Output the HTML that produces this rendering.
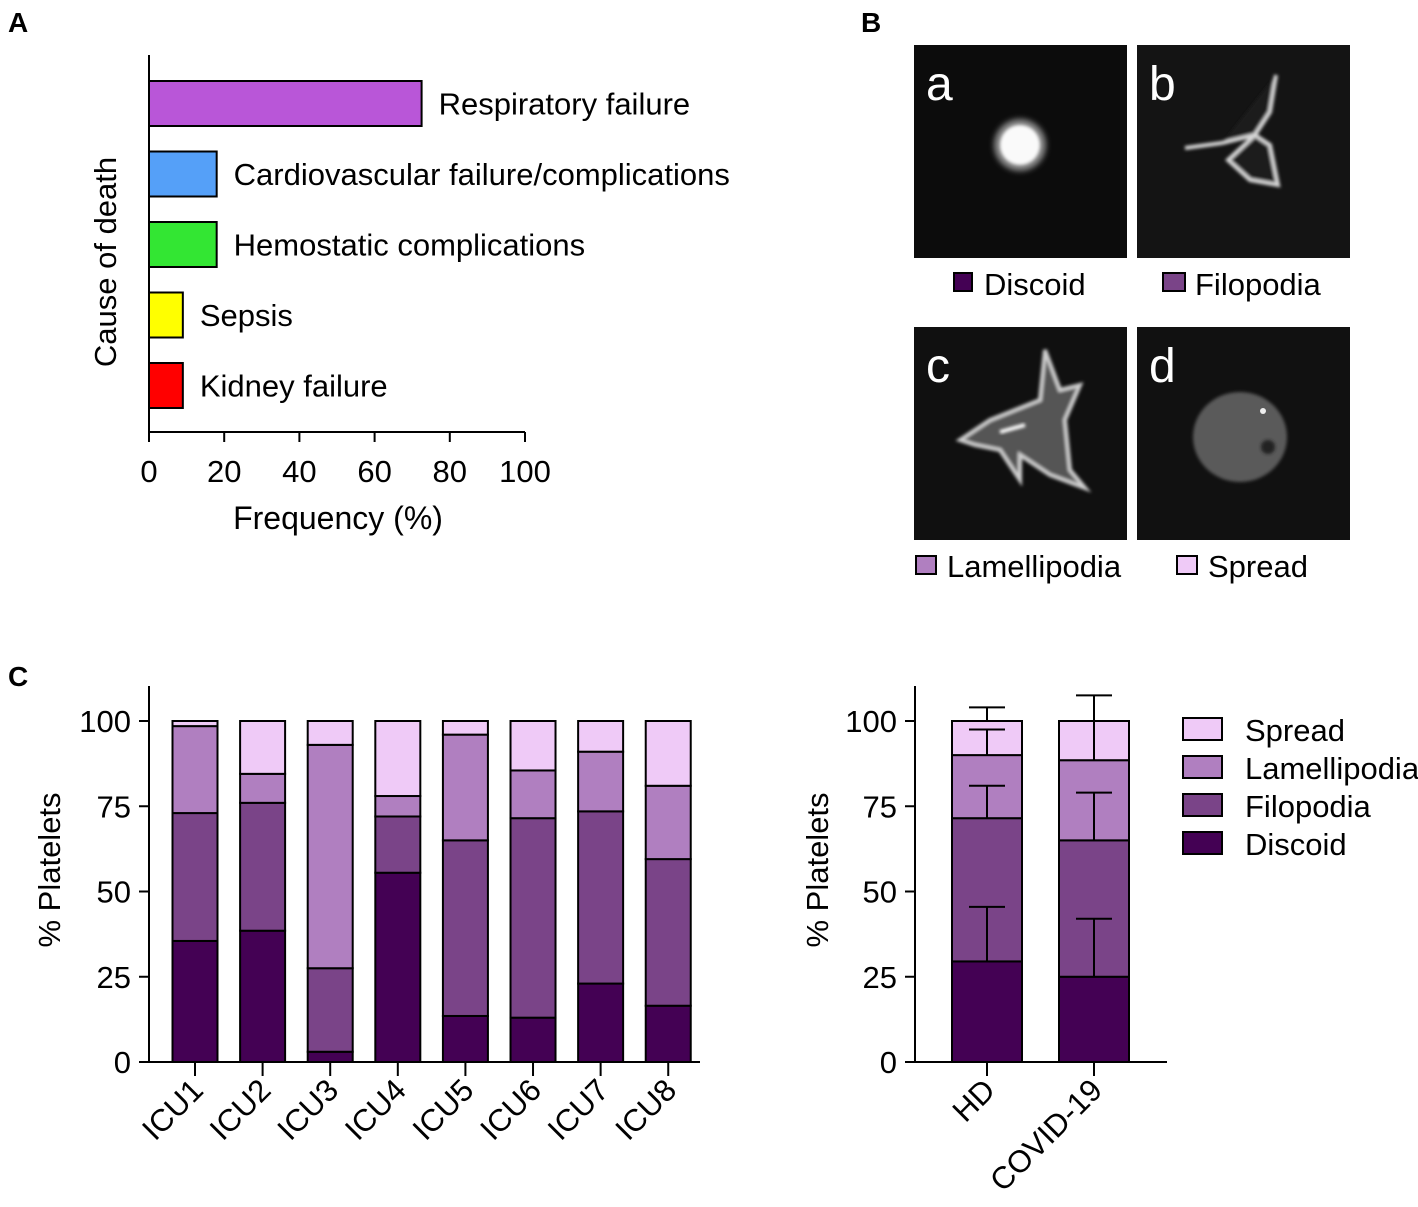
<!DOCTYPE html>
<html><head><meta charset="utf-8">
<style>
body{margin:0;background:#fff;}
svg{display:block;font-family:"Liberation Sans",Arial,sans-serif;}
</style></head>
<body>
<svg id="fig" width="1418" height="1207" viewBox="0 0 1418 1207" xmlns="http://www.w3.org/2000/svg">
<defs>
<filter id="bl" x="-50%" y="-50%" width="200%" height="200%"><feGaussianBlur stdDeviation="3"/></filter>
<filter id="bl2" x="-50%" y="-50%" width="200%" height="200%"><feGaussianBlur stdDeviation="1.5"/></filter>
</defs>
<text x="8" y="32" font-size="28" font-weight="bold">A</text>
<text x="861" y="32" font-size="28" font-weight="bold">B</text>
<text x="8" y="686" font-size="28" font-weight="bold">C</text>

<g>
<rect x="914" y="45" width="213" height="213" fill="#0c0c0c"/>
<circle cx="1020" cy="145" r="26" fill="#888" filter="url(#bl)"/>
<circle cx="1020" cy="145" r="20" fill="#fafafa" filter="url(#bl2)"/>
<text x="926" y="100" font-size="48" fill="#fff">a</text>
</g>
<g>
<rect x="1137" y="45" width="213" height="213" fill="#141414"/>
<path d="M1222 143 L1255 135 L1270 112 L1276 75 M1255 135 L1270 145 L1278 185 L1250 180 L1228 160 Z M1222 143 L1185 148" stroke="#d8d8d8" stroke-width="4" fill="#1e1e1e" filter="url(#bl2)"/>
<text x="1149" y="100" font-size="48" fill="#fff">b</text>
</g>
<g>
<rect x="914" y="327" width="213" height="213" fill="#101010"/>
<path d="M960 440 L990 420 L1040 400 L1045 350 L1060 390 L1080 385 L1065 420 L1070 470 L1085 488 L1050 475 L1020 455 L1020 480 L1000 450 L975 445 Z" fill="#555" stroke="#cfcfcf" stroke-width="4" filter="url(#bl2)"/>
<line x1="1000" y1="432" x2="1025" y2="425" stroke="#fff" stroke-width="4" filter="url(#bl2)"/>
<text x="926" y="382" font-size="48" fill="#fff">c</text>
</g>
<g>
<rect x="1137" y="327" width="213" height="213" fill="#111"/>
<ellipse cx="1240" cy="437" rx="47" ry="45" fill="#5a5a5a" filter="url(#bl2)"/>
<circle cx="1268" cy="447" r="7" fill="#222" filter="url(#bl2)"/>
<circle cx="1263" cy="411" r="3" fill="#eee"/>
<text x="1149" y="382" font-size="48" fill="#fff">d</text>
</g>
<g font-size="31">
<rect x="954" y="273" width="18" height="18" fill="#440154" stroke="#000" stroke-width="2"/><text x="984" y="295">Discoid</text>
<rect x="1163" y="273" width="22" height="18" fill="#7a4488" stroke="#000" stroke-width="2"/><text x="1195" y="295">Filopodia</text>
<rect x="916" y="556" width="20" height="18" fill="#b07fc0" stroke="#000" stroke-width="2"/><text x="947" y="577">Lamellipodia</text>
<rect x="1177" y="556" width="20" height="18" fill="#efcaf7" stroke="#000" stroke-width="2"/><text x="1208" y="577">Spread</text>
</g>

<g id="pa"></g>
<g id="pc1"></g>
<g id="pc2"></g>
<g font-size="31">
<rect x="1183" y="718" width="39" height="22" fill="#efcaf7" stroke="#000" stroke-width="2"/><text x="1245" y="741">Spread</text>
<rect x="1183" y="756" width="39" height="22" fill="#b07fc0" stroke="#000" stroke-width="2"/><text x="1245" y="779">Lamellipodia</text>
<rect x="1183" y="794" width="39" height="22" fill="#7a4488" stroke="#000" stroke-width="2"/><text x="1245" y="817">Filopodia</text>
<rect x="1183" y="832" width="39" height="22" fill="#440154" stroke="#000" stroke-width="2"/><text x="1245" y="855">Discoid</text>
</g>
</svg>
<script>
const causes = ["Respiratory failure","Cardiovascular failure/complications","Hemostatic complications","Sepsis","Kidney failure"];
const causeFreq = [72.5, 18, 18, 9, 9];
const causeColors = ["#b956d8","#55a0f8","#33e633","#ffff00","#ff0000"];
const freqTicks = [0,20,40,60,80,100];
const icuLabels = ["ICU1","ICU2","ICU3","ICU4","ICU5","ICU6","ICU7","ICU8"];
const icuDiscoid = [35.5,38.5,3,55.5,13.5,13,23,16.5];
const icuFilopodia = [37.5,37.5,24.5,16.5,51.5,58.5,50.5,43];
const icuLamellipodia = [25.5,8.5,65.5,6,31,14,17.5,21.5];
const icuSpread = [1.5,15.5,7,22,4,14.5,9,19];
const grpLabels = ["HD","COVID-19"];
const grpDiscoid = [29.5,25];
const grpFilopodia = [42,40];
const grpLamellipodia = [18.5,23.5];
const grpSpread = [10,11.5];
const grpErrDiscoid = [16,17];
const grpErrFilopodia = [9.5,14];
const grpErrLamellipodia = [7.5,11.5];
const grpErrSpread = [4,7.5];
const pctTicks = [0,25,50,75,100];

const NS="http://www.w3.org/2000/svg";
function mk(parent,tag,attrs,text){const e=document.createElementNS(NS,tag);for(const k in attrs)e.setAttribute(k,attrs[k]);if(text!==undefined)e.textContent=text;parent.appendChild(e);return e;}
const segColors=["#440154","#7a4488","#b07fc0","#efcaf7"];
const segNames=["discoid","filopodia","lamellipodia","spread"];
const FS=31;

(function(){
const g=document.getElementById('pa');
const x0=149,x1=525,yTop=55,yBot=432;
const xs=v=>x0+(v/100)*(x1-x0);
const band=70.5;
mk(g,'line',{x1:x0,y1:yTop,x2:x0,y2:yBot,stroke:'#000','stroke-width':2});
mk(g,'line',{x1:x0-1,y1:yBot,x2:x1,y2:yBot,stroke:'#000','stroke-width':2});
freqTicks.forEach(t=>{
 mk(g,'line',{x1:xs(t),y1:yBot,x2:xs(t),y2:yBot+10,stroke:'#000','stroke-width':2});
 const tx=mk(g,'text',{x:xs(t),y:482,'font-size':FS,'text-anchor':'middle'},t);
 
 
});
causes.forEach((c,i)=>{
 const yc=103.5+band*i;
 const r=mk(g,'rect',{x:x0,y:yc-22.5,width:xs(causeFreq[i])-x0,height:45,fill:causeColors[i],stroke:'#000','stroke-width':2});
 
 
 const t=mk(g,'text',{x:xs(causeFreq[i])+17,y:yc+11,'font-size':FS},c);
 
 
});
const xt=mk(g,'text',{x:338,y:529,'font-size':FS+1,'text-anchor':'middle'},'Frequency (%)');


const yt=mk(g,'text',{x:0,y:0,'font-size':FS,'text-anchor':'middle',transform:'translate(116,262) rotate(-90)'},'Cause of death');


})();

function stacked(g,opts){
 const y0=1062,y100=721;
 const ys=v=>y0-(v/100)*(y0-y100);
 mk(g,'line',{x1:opts.ax,y1:686,x2:opts.ax,y2:y0,stroke:'#000','stroke-width':2});
 mk(g,'line',{x1:opts.ax-1,y1:y0,x2:opts.axEnd,y2:y0,stroke:'#000','stroke-width':2});
 pctTicks.forEach(t=>{
  mk(g,'line',{x1:opts.ax-10,y1:ys(t),x2:opts.ax,y2:ys(t),stroke:'#000','stroke-width':2});
  const tx=mk(g,'text',{x:opts.ax-18,y:ys(t)+11,'font-size':FS,'text-anchor':'end'},t);
  
  
 });
 const yt=mk(g,'text',{x:0,y:0,'font-size':FS,'text-anchor':'middle',transform:'translate('+opts.titleX+',870) rotate(-90)'},'% Platelets');
 
 
 opts.labels.forEach((lab,i)=>{
  const cx=opts.c0+i*opts.step;
  let cum=0;
  opts.series.forEach((s,k)=>{
   const v=s[i];
   const r=mk(g,'rect',{x:cx-opts.w/2,y:ys(cum+v),width:opts.w,height:ys(cum)-ys(cum+v),fill:segColors[k],stroke:'#000','stroke-width':2});
   
   
   cum+=v;
  });
  if(opts.errs){
   let c2=0;
   opts.series.forEach((s,k)=>{
    c2+=s[i];
    const e=opts.errs[k][i];
    mk(g,'line',{x1:cx,y1:ys(c2),x2:cx,y2:ys(c2+e),stroke:'#000','stroke-width':2});
    mk(g,'line',{x1:cx-18,y1:ys(c2+e),x2:cx+18,y2:ys(c2+e),stroke:'#000','stroke-width':2});
   });
  }
  mk(g,'line',{x1:cx,y1:y0,x2:cx,y2:y0+14,stroke:'#000','stroke-width':2});
  const tl=mk(g,'text',{x:0,y:0,'font-size':FS,'text-anchor':'end',transform:'translate('+(cx+10)+','+(y0+30)+') rotate(-45)'},lab);
  
  
 });
}
stacked(document.getElementById('pc1'),{ax:149,axEnd:700,c0:195,step:63.3*1.068,w:45,labels:icuLabels,series:[icuDiscoid,icuFilopodia,icuLamellipodia,icuSpread],titleX:60});
stacked(document.getElementById('pc2'),{ax:915,axEnd:1167,c0:987,step:107,w:70,labels:grpLabels,series:[grpDiscoid,grpFilopodia,grpLamellipodia,grpSpread],errs:[grpErrDiscoid,grpErrFilopodia,grpErrLamellipodia,grpErrSpread],titleX:828});
</script>
</body></html>
